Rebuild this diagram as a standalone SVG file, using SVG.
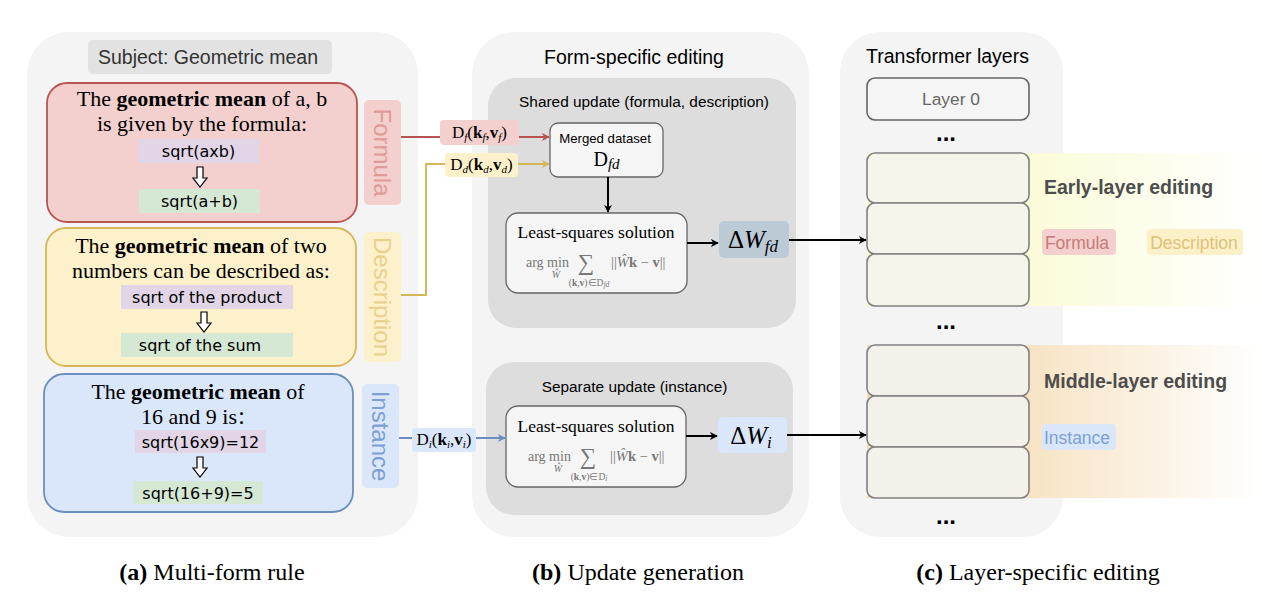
<svg xmlns="http://www.w3.org/2000/svg" width="1262" height="594" viewBox="0 0 1262 594">
<style>
.panel{fill:#f4f4f4;stroke:none}
.sans{font-family:"Liberation Sans",Arial,sans-serif}
.serif{font-family:"Liberation Serif","Times New Roman",serif}
.comic{font-family:"Comic Sans MS","DejaVu Sans",sans-serif;font-size:16px;fill:#000}
.main{font-size:22px;fill:#000}
.vlabel{font-family:"Liberation Sans",Arial,sans-serif;font-size:24px}
.wbox{fill:#f5f5f5;stroke:#666;stroke-width:1.3}
.layer{stroke:#808080;stroke-width:1.6}
.math{font-family:"Liberation Serif","Times New Roman",serif;fill:#777}
.cap{font-family:"Liberation Serif","Times New Roman",serif;font-size:24px;fill:#000}
.hollow{fill:#fff;stroke:#000;stroke-width:1.2}
.tag{font-family:"Liberation Sans",Arial,sans-serif;font-size:17.5px}
.dots{font-family:"Liberation Sans",Arial,sans-serif;font-size:24px;font-weight:bold;fill:#000}
</style>
<defs>
<marker id="mk" viewBox="0 0 10 10" refX="9" refY="5" markerWidth="8" markerHeight="8" markerUnits="userSpaceOnUse" orient="auto"><path d="M0,0 L10,5 L0,10 L3,5 z" fill="#000"/></marker>
<marker id="mkr" viewBox="0 0 10 10" refX="9" refY="5" markerWidth="8" markerHeight="8" markerUnits="userSpaceOnUse" orient="auto"><path d="M0,0 L10,5 L0,10 L3,5 z" fill="#b85450"/></marker>
<marker id="mky" viewBox="0 0 10 10" refX="9" refY="5" markerWidth="8" markerHeight="8" markerUnits="userSpaceOnUse" orient="auto"><path d="M0,0 L10,5 L0,10 L3,5 z" fill="#d6b656"/></marker>
<marker id="mkb" viewBox="0 0 10 10" refX="9" refY="5" markerWidth="8" markerHeight="8" markerUnits="userSpaceOnUse" orient="auto"><path d="M0,0 L10,5 L0,10 L3,5 z" fill="#6c8ebf"/></marker>
<linearGradient id="gEarly" x1="0" y1="0" x2="1" y2="0">
<stop offset="0" stop-color="#f8f8c8"/><stop offset="0.4" stop-color="#fbfbd8"/><stop offset="1" stop-color="#ffffff"/>
</linearGradient>
<linearGradient id="gMid" x1="0" y1="0" x2="1" y2="0">
<stop offset="0" stop-color="#f5ddb8"/><stop offset="0.4" stop-color="#f7e3c3"/><stop offset="1" stop-color="#ffffff"/>
</linearGradient>
</defs>
<rect width="1262" height="594" fill="#fff"/>

<!-- Panels -->
<g id="panel-a"><rect class="panel" x="27" y="32" width="391" height="505" rx="42"/></g>
<g id="panel-b"><rect class="panel" x="472" y="32" width="337" height="505" rx="42"/>
<text class="sans" x="634" y="64" font-size="19.5" text-anchor="middle" fill="#000">Form-specific editing</text></g>
<g id="panel-c"><rect class="panel" x="840" y="32" width="223" height="505" rx="40"/>
<text class="sans" x="947.5" y="63" font-size="19.5" text-anchor="middle" fill="#000">Transformer layers</text></g>

<!-- gradient regions -->
<g id="early-region"><rect x="867" y="153" width="395" height="153" fill="url(#gEarly)"/></g>
<g id="middle-region"><rect x="867" y="345" width="395" height="153" fill="url(#gMid)"/></g>

<g id="subject"><rect x="88" y="40" width="244" height="34" rx="5" fill="#e2e2e2"/>
<text class="sans" x="208" y="64" font-size="19.5" text-anchor="middle" fill="#333">Subject: Geometric mean</text></g>

<g id="formula-box">
<rect x="47" y="83" width="310" height="139" rx="20" fill="#f3d0ce" stroke="#b85450" stroke-width="1.8"/>
<text class="serif main" x="202" y="106" text-anchor="middle">The <tspan font-weight="bold">geometric mean</tspan> of a, b</text>
<text class="serif main" x="202" y="131" text-anchor="middle">is given by the formula:</text>
<rect x="138" y="139" width="121" height="24" fill="#e1d5e7"/>
<text class="comic" x="198.5" y="157" text-anchor="middle">sqrt(axb)</text>
<path class="hollow" d="M197,167 L203,167 L203,178 L207,178 L200,187 L193,178 L197,178 Z"/>
<rect x="139" y="189" width="121" height="24" fill="#d5e8d4"/>
<text class="comic" x="199.5" y="207" text-anchor="middle">sqrt(a+b)</text>
</g>
<g id="formula-label"><rect x="364" y="100" width="37" height="105" rx="5" fill="#f3cfcd"/>
<text class="vlabel" transform="translate(374,152.5) rotate(90)" text-anchor="middle" fill="#dc9c98">Formula</text></g>

<g id="description-box">
<rect x="46" y="228" width="310" height="138" rx="20" fill="#fdf1cb" stroke="#d6b656" stroke-width="1.8"/>
<text class="serif main" x="201" y="253" text-anchor="middle">The <tspan font-weight="bold">geometric mean</tspan> of two</text>
<text class="serif main" x="201" y="278" text-anchor="middle">numbers can be described as:</text>
<rect x="121" y="285" width="172" height="24" fill="#e1d5e7"/>
<text class="comic" x="207" y="303" text-anchor="middle">sqrt of the product</text>
<path class="hollow" d="M201,312 L207,312 L207,323 L211,323 L204,332 L197,323 L201,323 Z"/>
<rect x="121" y="333" width="172" height="24" fill="#d5e8d4"/>
<text class="comic" x="200" y="351" text-anchor="middle">sqrt of the sum</text>
</g>
<g id="description-label"><rect x="364" y="232" width="37" height="130" rx="5" fill="#fdf1cb"/>
<text class="vlabel" transform="translate(374,297) rotate(90)" text-anchor="middle" fill="#e8d190">Description</text></g>

<g id="instance-box">
<rect x="44" y="374" width="309" height="138" rx="20" fill="#dae7fb" stroke="#6c8ebf" stroke-width="1.8"/>
<text class="serif main" x="198" y="399" text-anchor="middle">The <tspan font-weight="bold">geometric mean</tspan> of</text>
<text class="serif main" x="198" y="424" text-anchor="middle">16 and 9 is<tspan font-family="'Noto Sans CJK SC',sans-serif" font-size="18">：</tspan></text>
<rect x="135" y="430" width="131" height="23" fill="#e1d5e7"/>
<text class="comic" x="200.5" y="447.5" text-anchor="middle">sqrt(16x9)=12</text>
<path class="hollow" d="M197,457 L203,457 L203,468 L207,468 L200,477 L193,468 L197,468 Z"/>
<rect x="133" y="481" width="130" height="23" fill="#d5e8d4"/>
<text class="comic" x="198" y="498.5" text-anchor="middle">sqrt(16+9)=5</text>
</g>
<g id="instance-label"><rect x="362" y="384" width="37" height="104" rx="5" fill="#dae7fb"/>
<text class="vlabel" transform="translate(372,436) rotate(90)" text-anchor="middle" fill="#7e9fd0">Instance</text></g>

<!-- Shared update -->
<g id="shared-update">
<rect x="488" y="78" width="308" height="250" rx="28" fill="#dddddd"/>
<text class="sans" x="644" y="107" font-size="15.4" text-anchor="middle" fill="#000">Shared update (formula, description)</text>
</g>
<g id="merged-dataset">
<rect class="wbox" x="550" y="123" width="113" height="54" rx="8"/>
<text class="sans" x="605" y="143" font-size="13.2" text-anchor="middle" fill="#000">Merged dataset</text>
<text class="serif" x="606.5" y="166" font-size="20" text-anchor="middle" fill="#000">D<tspan font-style="italic" font-size="15" dy="3">fd</tspan></text>
</g>
<g id="ls-shared">
<rect class="wbox" x="506" y="213" width="181" height="80" rx="12"/>
<text class="serif" x="596" y="238" font-size="17.5" text-anchor="middle" fill="#000">Least-squares solution</text>
<text class="math" x="526" y="267" font-size="14">arg min</text>
<text class="math" x="556" y="278" font-size="10" text-anchor="middle" font-style="italic">Ŵ</text>
<text class="math" x="586" y="270" font-size="23" text-anchor="middle">∑</text>
<text class="math" x="589" y="286" font-size="9.5" text-anchor="middle">(<tspan font-weight="bold">k</tspan>,<tspan font-weight="bold">v</tspan>)∈D<tspan font-style="italic" font-size="7.5" dy="1">fd</tspan></text>
<text class="math" x="611" y="267" font-size="14.5">||<tspan font-style="italic">Ŵ</tspan><tspan font-weight="bold">k</tspan> − <tspan font-weight="bold">v</tspan>||</text>
</g>
<g id="dw-fd"><rect x="719" y="221" width="70" height="37" rx="5" fill="#bccad5"/>
<text class="serif" x="753" y="248" font-size="25" text-anchor="middle" fill="#000">Δ<tspan font-style="italic">W</tspan><tspan font-style="italic" font-size="17" dy="4">fd</tspan></text></g>

<!-- Separate update -->
<g id="separate-update">
<rect x="486" y="362" width="307" height="153" rx="28" fill="#dddddd"/>
<text class="sans" x="634.5" y="392" font-size="15.4" text-anchor="middle" fill="#000">Separate update (instance)</text>
</g>
<g id="ls-separate">
<rect class="wbox" x="506" y="406" width="180" height="81" rx="12"/>
<text class="serif" x="596" y="432" font-size="17.5" text-anchor="middle" fill="#000">Least-squares solution</text>
<text class="math" x="528" y="461" font-size="14">arg min</text>
<text class="math" x="558" y="472" font-size="10" text-anchor="middle" font-style="italic">Ŵ</text>
<text class="math" x="588" y="464" font-size="23" text-anchor="middle">∑</text>
<text class="math" x="589" y="480" font-size="9.5" text-anchor="middle">(<tspan font-weight="bold">k</tspan>,<tspan font-weight="bold">v</tspan>)∈D<tspan font-style="italic" font-size="7.5" dy="1">i</tspan></text>
<text class="math" x="610" y="461" font-size="14.5">||<tspan font-style="italic">Ŵ</tspan><tspan font-weight="bold">k</tspan> − <tspan font-weight="bold">v</tspan>||</text>
</g>
<g id="dw-i"><rect x="718" y="417" width="69" height="36" rx="5" fill="#dae7fb"/>
<text class="serif" x="751" y="444" font-size="25" text-anchor="middle" fill="#000">Δ<tspan font-style="italic">W</tspan><tspan font-style="italic" font-size="17" dy="4">i</tspan></text></g>

<!-- Layers -->
<g id="layer0"><rect x="867" y="78" width="162" height="42" rx="8" fill="#f5f5f5" stroke="#666" stroke-width="1.6"/>
<text class="sans" x="951" y="105" font-size="17.4" text-anchor="middle" fill="#666">Layer 0</text></g>
<g id="dots1"><text class="dots" x="946" y="141" text-anchor="middle">...</text></g>
<g id="early-layers">
<rect class="layer" x="867" y="153" width="162" height="50" rx="8" fill="#f5f5ec"/>
<rect class="layer" x="867" y="203" width="162" height="51" rx="8" fill="#f5f5ec"/>
<rect class="layer" x="867" y="254" width="162" height="52" rx="8" fill="#f5f5ec"/>
</g>
<g id="early-label">
<text class="sans" x="1044" y="194" font-size="19.5" font-weight="bold" fill="#4d4d4d">Early-layer editing</text>
<rect x="1042" y="229" width="74" height="26" rx="4" fill="#f3cfcd"/>
<text class="tag" x="1077" y="249" text-anchor="middle" fill="#c47b77">Formula</text>
<rect x="1147" y="229" width="96" height="26" rx="4" fill="#fcf0c8"/>
<text class="tag" x="1194" y="249" text-anchor="middle" fill="#dcc27a">Description</text>
</g>
<g id="dots2"><text class="dots" x="946" y="329" text-anchor="middle">...</text></g>
<g id="middle-layers">
<rect class="layer" x="867" y="345" width="162" height="51" rx="8" fill="#f4f0ea"/>
<rect class="layer" x="867" y="396" width="162" height="51" rx="8" fill="#f4f0ea"/>
<rect class="layer" x="867" y="447" width="162" height="51" rx="8" fill="#f4f0ea"/>
</g>
<g id="middle-label">
<text class="sans" x="1044" y="388" font-size="19.5" font-weight="bold" fill="#4d4d4d">Middle-layer editing</text>
<rect x="1042" y="424" width="74" height="26" rx="4" fill="#dae7fb"/>
<text class="tag" x="1077" y="444" text-anchor="middle" fill="#7e9fd0">Instance</text>
</g>
<g id="dots3"><text class="dots" x="946" y="524" text-anchor="middle">...</text></g>

<!-- Connectors -->
<g id="connectors" fill="none">
<path d="M401,137 L549,137" stroke="#b85450" stroke-width="2" marker-end="url(#mkr)"/>
<path d="M401,295 L426,295 L426,164 L549,164" stroke="#d6b656" stroke-width="2" marker-end="url(#mky)"/>
<path d="M399,438 L505,438" stroke="#6c8ebf" stroke-width="2" marker-end="url(#mkb)"/>
<path d="M608,177 L608,212" stroke="#000" stroke-width="2" marker-end="url(#mk)"/>
<path d="M687,243 L718,243" stroke="#000" stroke-width="2" marker-end="url(#mk)"/>
<path d="M789,240 L866,240" stroke="#000" stroke-width="2" marker-end="url(#mk)"/>
<path d="M686,436 L717,436" stroke="#000" stroke-width="2" marker-end="url(#mk)"/>
<path d="M787,435 L866,435" stroke="#000" stroke-width="2" marker-end="url(#mk)"/>
</g>
<g id="connector-labels">
<rect x="440" y="120" width="79" height="25" rx="4" fill="#f3cfcd"/>
<text class="serif" x="479.5" y="138" font-size="17" text-anchor="middle" fill="#000">D<tspan font-style="italic" font-size="11" dy="3">f</tspan><tspan dy="-3">(</tspan><tspan font-weight="bold">k</tspan><tspan font-style="italic" font-size="11" dy="3">f</tspan><tspan dy="-3">,</tspan><tspan font-weight="bold">v</tspan><tspan font-style="italic" font-size="11" dy="3">f</tspan><tspan dy="-3">)</tspan></text>
<rect x="445" y="153" width="73" height="24" rx="4" fill="#fdf1cb"/>
<text class="serif" x="481.5" y="170" font-size="17" text-anchor="middle" fill="#000">D<tspan font-style="italic" font-size="11" dy="3">d</tspan><tspan dy="-3">(</tspan><tspan font-weight="bold">k</tspan><tspan font-style="italic" font-size="11" dy="3">d</tspan><tspan dy="-3">,</tspan><tspan font-weight="bold">v</tspan><tspan font-style="italic" font-size="11" dy="3">d</tspan><tspan dy="-3">)</tspan></text>
<rect x="412" y="428" width="64" height="24" rx="4" fill="#dae7fb"/>
<text class="serif" x="444" y="445" font-size="17" text-anchor="middle" fill="#000">D<tspan font-style="italic" font-size="11" dy="3">i</tspan><tspan dy="-3">(</tspan><tspan font-weight="bold">k</tspan><tspan font-style="italic" font-size="11" dy="3">i</tspan><tspan dy="-3">,</tspan><tspan font-weight="bold">v</tspan><tspan font-style="italic" font-size="11" dy="3">i</tspan><tspan dy="-3">)</tspan></text>
</g>

<!-- Captions -->
<g id="captions">
<text class="cap" x="212" y="580" text-anchor="middle"><tspan font-weight="bold">(a)</tspan> Multi-form rule</text>
<text class="cap" x="638" y="580" text-anchor="middle"><tspan font-weight="bold">(b)</tspan> Update generation</text>
<text class="cap" x="1038" y="580" text-anchor="middle"><tspan font-weight="bold">(c)</tspan> Layer-specific editing</text>
</g>
</svg>
